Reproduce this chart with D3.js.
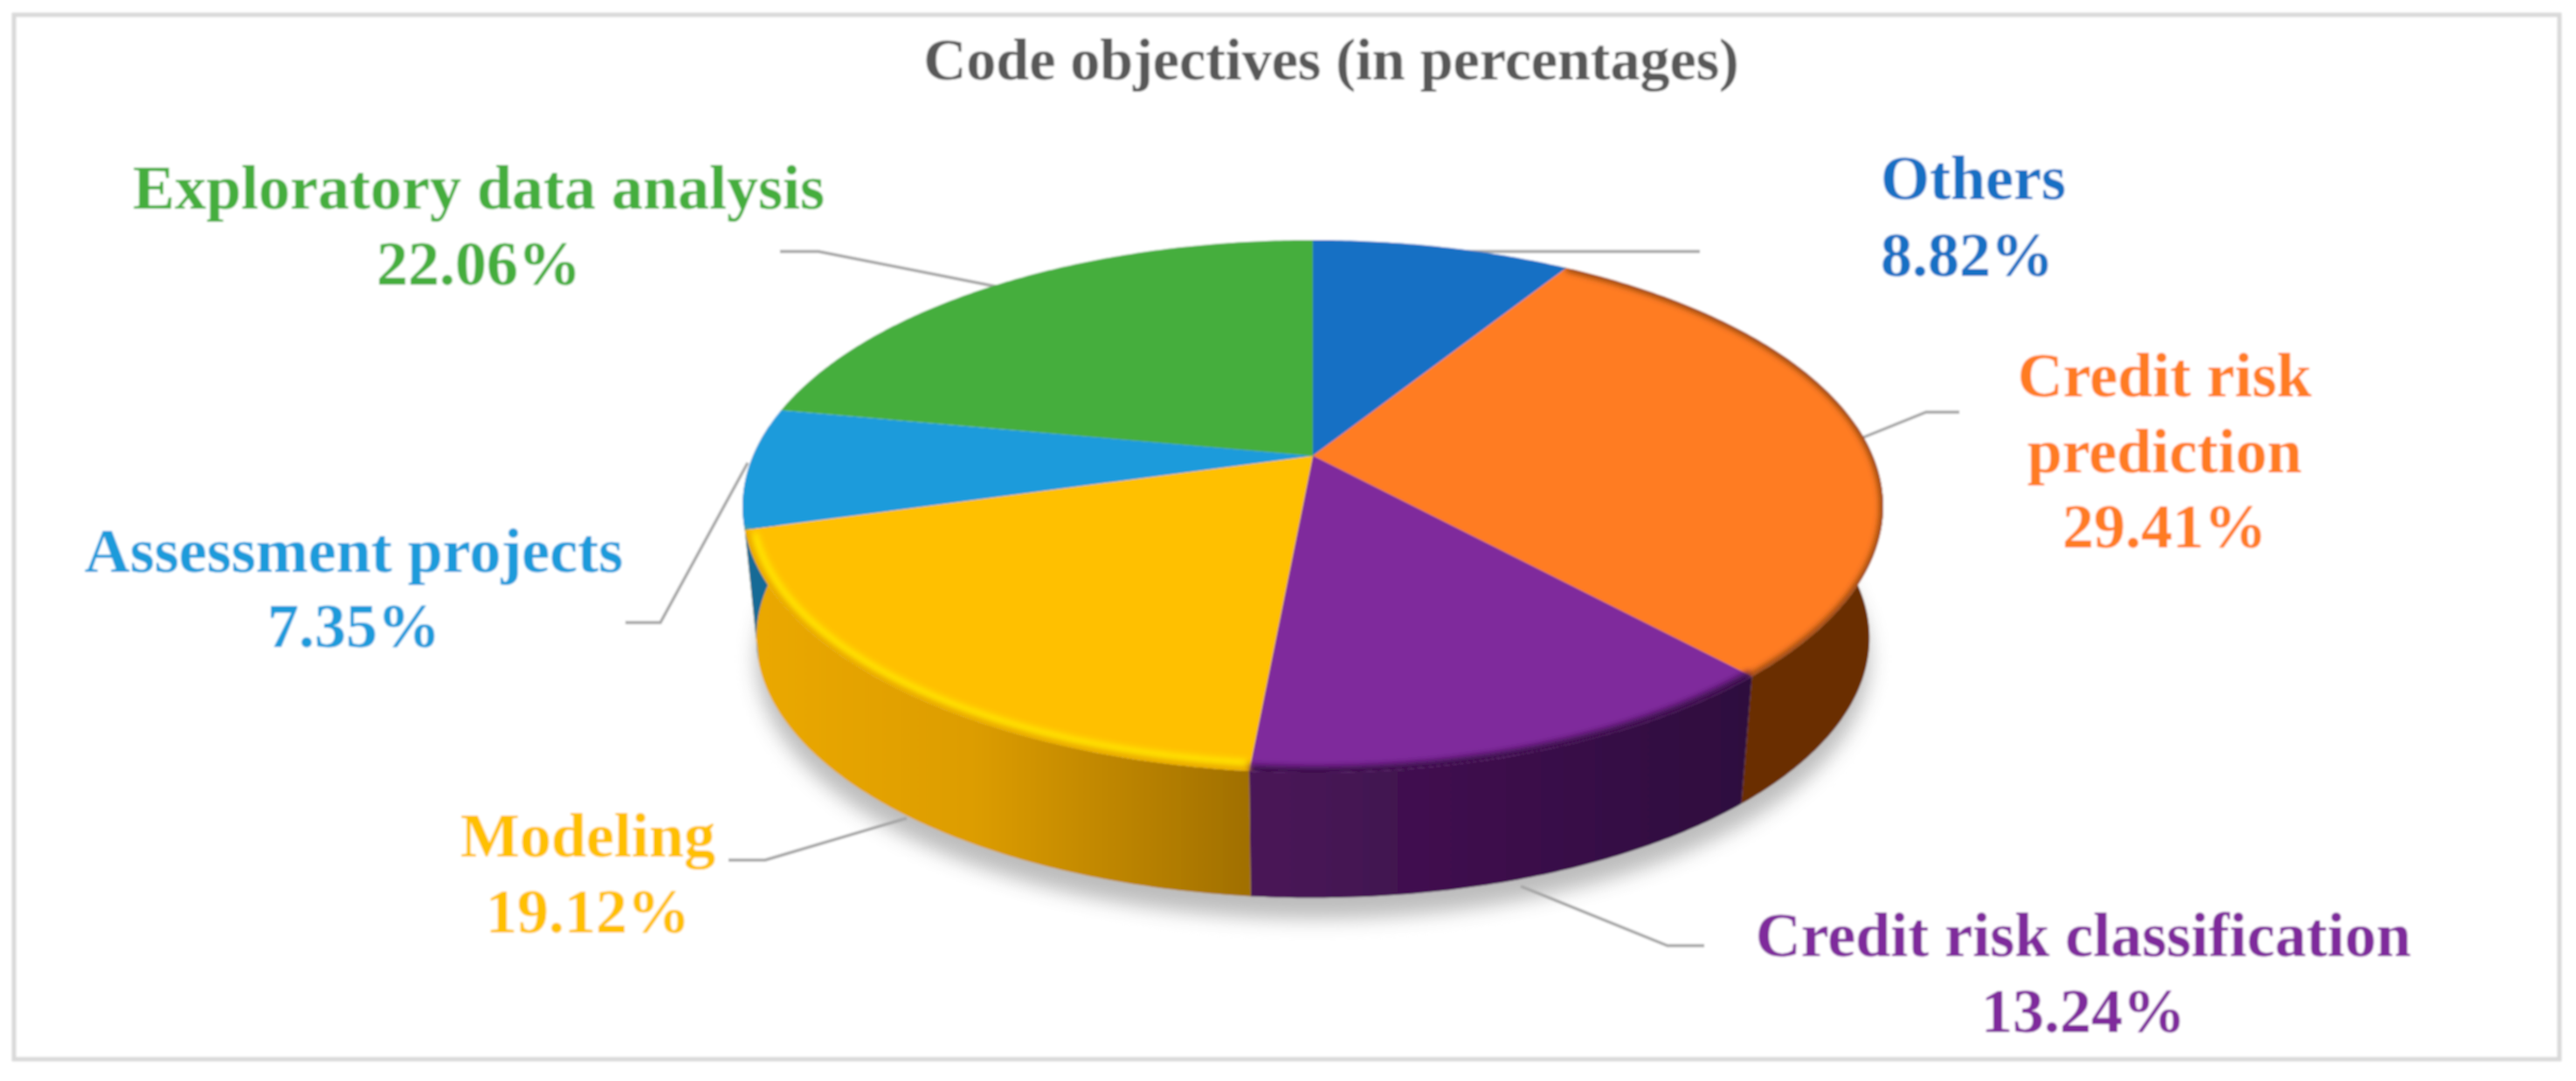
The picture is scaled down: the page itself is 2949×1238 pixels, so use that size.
<!DOCTYPE html>
<head>
  <meta charset="utf-8">
  <script src="https://cdn.jsdelivr.net/npm/d3@7/dist/d3.min.js"></script>
  <style>
    body { margin:0;background:#fff; }
    text { font-family:"Liberation Serif",serif;font-weight:bold; }
  </style>
</head>

<body>
  <script>
var categories = ["Others", "Credit risk prediction", "Credit risk classification", "Modeling", "Assessment projects", "Exploratory data analysis"];
var percentages = [8.82, 29.41, 13.24, 19.12, 7.35, 22.06];
var chartTitle = "Code objectives (in percentages)";

var width = 2949,
    height = 1238;

var colors = ["#1470C4", "#FF7C24", "#7F2A9C", "#FFC000", "#1C9BDB", "#44AE3C"];
var sideLeft = ["#0c4373", "#6A2E05", "#4A1558", "#EBA900", "#126a96", "#2a6e25"];
var sideRight = ["#0c4373", "#6A2E05", "#2E0A3E", "#A06F00", "#126a96", "#2a6e25"];

// label lines, anchor x, baselines, leader polyline
var labels = [
  {lines:["Others", "8.82%"], x:2153, anchor:"start", y:[228, 316], leader:[[1946,288],[1640,288]]},
  {lines:["Credit risk", "prediction", "29.41%"], x:2478, anchor:"middle", y:[454, 541, 627], leader:[[2243,472],[2205,472],[2128,503]]},
  {lines:["Credit risk classification", "13.24%"], x:2385, anchor:"middle", y:[1095, 1182], leader:[[1951,1083],[1909,1083],[1741,1015]]},
  {lines:["Modeling", "19.12%"], x:673, anchor:"middle", y:[981, 1068], leader:[[834,985],[876,985],[1038,937]]},
  {lines:["Assessment projects", "7.35%"], x:405, anchor:"middle", y:[655, 741], leader:[[716,713],[756,713],[856,530]]},
  {lines:["Exploratory data analysis", "22.06%"], x:548, anchor:"middle", y:[239, 326], leader:[[893,288],[937,288],[1150,330]]}
];

var svg = d3.select("body")
    .append("svg")
    .attr("width", width)
    .attr("height", height)
    .style("display", "block");

var defs = svg.append("defs");
[["soft", 1.3], ["rim", 3.5], ["shade", 11]].forEach(function(f) {
  defs.append("filter").attr("id", f[0])
      .attr("x", "-10%").attr("y", "-10%").attr("width", "120%").attr("height", "120%")
      .append("feGaussianBlur").attr("stdDeviation", f[1]);
});

// pie centre and tilt
var cx = 1503, cy = 522, R = 641, Ry = 294, q = 0.19;
var cyBottom = 674, kBottom = 0.976;

function top_(a) {
  var s = 1 / (1 + q * Math.cos(a));
  return [cx + R * Math.sin(a) * s, cy - Ry * Math.cos(a) * s];
}
function bottom_(a) {
  var s = 1 / (1 + q * Math.cos(a));
  return [cx + kBottom * R * Math.sin(a) * s, cyBottom - kBottom * Ry * Math.cos(a) * s];
}
function arcPoints(project, a0, a1) {
  var n = Math.max(2, Math.ceil((a1 - a0) / 0.01));
  return d3.range(n + 1).map(function(i) { return project(a0 + (a1 - a0) * i / n); });
}

var line = d3.line();
var pie = d3.pie().sort(null).value(function(d) { return d; });
var slices = pie(percentages);
var TAU = Math.PI * 2;

var chart = svg.append("g").attr("filter", "url(#soft)");

// frame
chart.append("rect")
    .attr("x", 16).attr("y", 17)
    .attr("width", 2914).attr("height", 1196)
    .attr("fill", "#fff")
    .attr("stroke", "#D9D9D9")
    .attr("stroke-width", 5);

// shadow under the pie
chart.append("path")
    .attr("d", line(arcPoints(function(a) {
      var p = bottom_(a);
      return [p[0], p[1] + 24];
    }, 0, TAU)) + "Z")
    .attr("fill", "#bdbdbd")
    .attr("filter", "url(#shade)");

// leaders go under the pie
chart.selectAll(".leader")
    .data(labels)
    .enter().append("path")
    .attr("class", "leader")
    .attr("d", function(d) { return line(d.leader); })
    .attr("fill", "none")
    .attr("stroke", "#A6A6A6")
    .attr("stroke-width", 3.5);

// side wall, only the front half of the circle shows
var front = slices.map(function(d, i) {
  var a0 = Math.max(d.startAngle, Math.PI / 2 - 0.12),
      a1 = Math.min(d.endAngle, Math.PI * 1.5 + 0.12);
  return {i:i, a0:a0, a1:a1};
}).filter(function(d) { return d.a1 > d.a0; });

front.forEach(function(d) {
  var t = arcPoints(top_, d.a0, d.a1),
      b = arcPoints(bottom_, d.a0, d.a1).reverse(),
      pts = t.concat(b),
      xs = d3.extent(pts, function(p) { return p[0]; }),
      id = "side" + d.i;
  var grad = defs.append("linearGradient").attr("id", id)
      .attr("gradientUnits", "userSpaceOnUse")
      .attr("x1", xs[1]).attr("x2", xs[0]).attr("y1", 0).attr("y2", 0);
  grad.append("stop").attr("offset", 0).attr("stop-color", sideRight[d.i]);
  grad.append("stop").attr("offset", 1).attr("stop-color", sideLeft[d.i]);
  if (d.i === 3) {
    // yellow wall starts a little further left than its brightest stop
    grad.attr("x1", xs[0]).attr("x2", xs[1]);
    grad.selectAll("stop").remove();
    grad.append("stop").attr("offset", 0).attr("stop-color", "#EBA900");
    grad.append("stop").attr("offset", 0.45).attr("stop-color", "#DD9D00");
    grad.append("stop").attr("offset", 1).attr("stop-color", "#A06F00");
  }
  chart.append("path")
      .attr("d", line(pts) + "Z")
      .attr("fill", "url(#" + id + ")");
});

// top face
var topG = chart.append("g");
topG.selectAll(".slice")
    .data(slices)
    .enter().append("path")
    .attr("class", "slice")
    .attr("d", function(d) {
      return line([[cx, cy]].concat(arcPoints(top_, d.startAngle, d.endAngle))) + "Z";
    })
    .attr("fill", function(d, i) { return colors[i]; });

// bevel along the front rim
var rimClip = defs.append("clipPath").attr("id", "rimClip");
rimClip.append("path").attr("d", line(arcPoints(top_, 0, TAU)) + "Z");

var rim = chart.append("g").attr("clip-path", "url(#rimClip)");
var inset = function(a) {
  var p = top_(a);
  return [cx + (p[0] - cx) * 0.985, cy + (p[1] - cy) * 0.975];
};
rim.append("path")
    .attr("d", line(arcPoints(inset, slices[3].startAngle + 0.005, slices[3].endAngle - 0.02)))
    .attr("fill", "none")
    .attr("stroke", "#FFE800")
    .attr("stroke-width", 8)
    .attr("filter", "url(#rim)");
rim.append("path")
    .attr("d", line(arcPoints(top_, slices[2].startAngle, slices[2].endAngle)))
    .attr("fill", "none")
    .attr("stroke", "#3a1048")
    .attr("stroke-width", 14)
    .attr("filter", "url(#rim)");
rim.append("path")
    .attr("d", line(arcPoints(top_, slices[3].startAngle, slices[3].endAngle)))
    .attr("fill", "none")
    .attr("stroke", "#E3A500")
    .attr("stroke-width", 8)
    .attr("filter", "url(#rim)");
rim.append("path")
    .attr("d", line(arcPoints(top_, slices[1].startAngle, slices[1].endAngle)))
    .attr("fill", "none")
    .attr("stroke", "#7a3a0a")
    .attr("stroke-width", 7)
    .attr("filter", "url(#rim)");

// title and labels
chart.append("text")
    .attr("x", 1524).attr("y", 91)
    .attr("text-anchor", "middle")
    .attr("font-size", 68)
    .attr("fill", "#595959")
    .text(chartTitle);

labels.forEach(function(d, i) {
  d.lines.forEach(function(t, j) {
    chart.append("text")
        .attr("x", d.x).attr("y", d.y[j])
        .attr("text-anchor", d.anchor)
        .attr("font-size", 72)
        .attr("fill", colors[i])
        .text(t);
  });
});
  </script>
</body>
